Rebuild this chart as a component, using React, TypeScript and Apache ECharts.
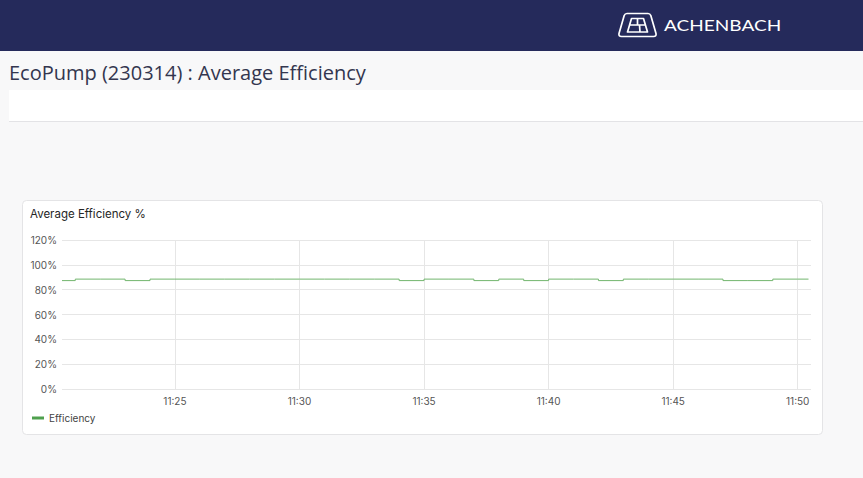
import React, { useEffect, useRef } from "react";
import * as echarts from "echarts";

// ---- data ----
const pageTitle = "EcoPump (230314) : Average Efficiency";
const brandName = "ACHENBACH";
const chartTitle = "Average Efficiency %";
const seriesName = "Efficiency";
const chartDay = [2023, 2, 14];
const axisStart = "11:20:28";
const axisEnd = "11:50:32";
const sampleTimes = [
  "11:20:28", "11:21:00", "11:22:00", "11:23:00", "11:24:00", "11:25:00",
  "11:26:00", "11:27:00", "11:28:00", "11:29:00", "11:30:00", "11:31:00",
  "11:32:00", "11:33:00", "11:34:00", "11:35:00", "11:36:00", "11:37:00",
  "11:38:00", "11:39:00", "11:40:00", "11:41:00", "11:42:00", "11:43:00",
  "11:44:00", "11:45:00", "11:46:00", "11:47:00", "11:48:00", "11:49:00",
  "11:50:00", "11:50:26",
];
const efficiencyValues = [
  87.3, 88.5, 88.5, 87.3, 88.5, 88.5,
  88.5, 88.5, 88.5, 88.5, 88.5, 88.5,
  88.5, 88.5, 87.3, 88.5, 88.5, 87.3,
  88.5, 87.3, 88.5, 88.5, 87.3, 88.5,
  88.5, 88.5, 88.5, 87.3, 87.3, 88.5,
  88.5, 88.5,
];
const yMin = 0;
const yMax = 120;
const yStep = 20;

const toMs = (t: string) => {
  const [h, m, s] = t.split(":").map(Number);
  return new Date(chartDay[0], chartDay[1], chartDay[2], h, m, s).getTime();
};

const logoPath =
  "M8,0 L29,0 Q31,0 31.8,2 L37,20 Q37.6,23 34.5,23 L2.5,23 Q-0.6,23 0,20 L5.2,2 Q6,0 8,0 Z " +
  "M12.5,5 L24.5,5 L28.5,18.5 L8.5,18.5 Z " +
  "M10.5,11.5 L26.5,11.5 " +
  "M18.5,5 L18.5,11.5 " +
  "M20.5,11.5 L21,18.5";

let registered = false;

export default function App() {
  const ref = useRef<HTMLDivElement>(null);
  useEffect(() => {
    if (!registered) {
      echarts.graphic.registerShape("logo", echarts.graphic.extendPath(logoPath, {}) as any);
      registered = true;
    }
    const chart = echarts.init(ref.current!, null, { renderer: "svg" });
    const data = sampleTimes.map((t, i) => [toMs(t), efficiencyValues[i]]);
    chart.setOption({
      animation: false,
      backgroundColor: "#f8f8f9",
      textStyle: { fontFamily: "Inter, Roboto, sans-serif" },
      graphic: [
        { type: "rect", silent: true, z: -10, shape: { x: 0, y: 0, width: 863, height: 51 }, style: { fill: "#252a5b" } },
        {
          type: "logo", x: 619, y: 13.5, scaleX: 1, scaleY: 1, z: -5,
          style: { stroke: "#ffffff", fill: "none", lineWidth: 1.7, lineJoin: "round" },
        },
        {
          type: "text", x: 664, y: 25.5, scaleX: 1.19, scaleY: 1, z: -5,
          style: { text: brandName, fill: "#ffffff", font: "400 16px Lato, sans-serif", verticalAlign: "middle", align: "left" },
        },
        {
          type: "text", x: 9, y: 72.5, z: -5,
          style: { text: pageTitle, fill: "#33364f", font: "400 20px 'Open Sans', sans-serif", verticalAlign: "middle", align: "left" },
        },
        { type: "rect", silent: true, z: -10, shape: { x: 9, y: 90, width: 854, height: 31 }, style: { fill: "#ffffff" } },
        { type: "line", silent: true, z: -9, shape: { x1: 9, y1: 121.5, x2: 863, y2: 121.5 }, style: { stroke: "#e3e3e6", lineWidth: 1 } },
        {
          type: "rect", silent: true, z: -10,
          shape: { x: 22.5, y: 200.5, width: 800, height: 234, r: 4 },
          style: { fill: "#ffffff", stroke: "#e4e4e6", lineWidth: 1 },
        },
        {
          type: "text", x: 30, y: 213.5, z: -5,
          style: { text: chartTitle, fill: "#262626", font: "400 11.5px Inter, sans-serif", verticalAlign: "middle", align: "left" },
        },
      ],
      grid: { left: 62, right: 52, top: 240, bottom: 89, containLabel: false },
      legend: {
        left: 27,
        top: 408,
        itemWidth: 12,
        itemHeight: 3,
        itemGap: 10,
        textStyle: { color: "#444444", fontSize: 10, fontFamily: "Inter, sans-serif" },
        data: [{ name: seriesName, icon: "rect", itemStyle: { color: "#4fa04e" } }],
      },
      xAxis: {
        type: "time",
        min: toMs(axisStart),
        max: toMs(axisEnd),
        splitNumber: 6,
        axisLine: { show: false },
        axisTick: { show: false },
        splitLine: { show: true, showMinLine: false, showMaxLine: false, lineStyle: { color: "#e6e6e6", width: 1 } },
        axisLabel: {
          formatter: "{HH}:{mm}",
          color: "#555555",
          fontSize: 10,
          margin: 7,
          fontFamily: "Inter, sans-serif",
          showMinLabel: false,
          showMaxLabel: false,
        },
      },
      yAxis: {
        type: "value",
        min: yMin,
        max: yMax,
        interval: yStep,
        axisLine: { show: false },
        axisTick: { show: false },
        splitLine: { show: true, lineStyle: { color: "#e6e6e6", width: 1 } },
        axisLabel: {
          formatter: "{value}%",
          color: "#555555",
          fontSize: 10,
          margin: 5,
          fontFamily: "Inter, sans-serif",
        },
      },
      series: [
        {
          name: seriesName,
          type: "line",
          step: "end",
          showSymbol: false,
          symbol: "none",
          data,
          itemStyle: { color: "#4fa04e" },
          lineStyle: { color: "#72b56e", width: 1 },
        },
      ],
    });
    return () => chart.dispose();
  }, []);
  return <div ref={ref} style={{ position: "fixed", left: 0, top: 0, width: 863, height: 478 }} />;
}
